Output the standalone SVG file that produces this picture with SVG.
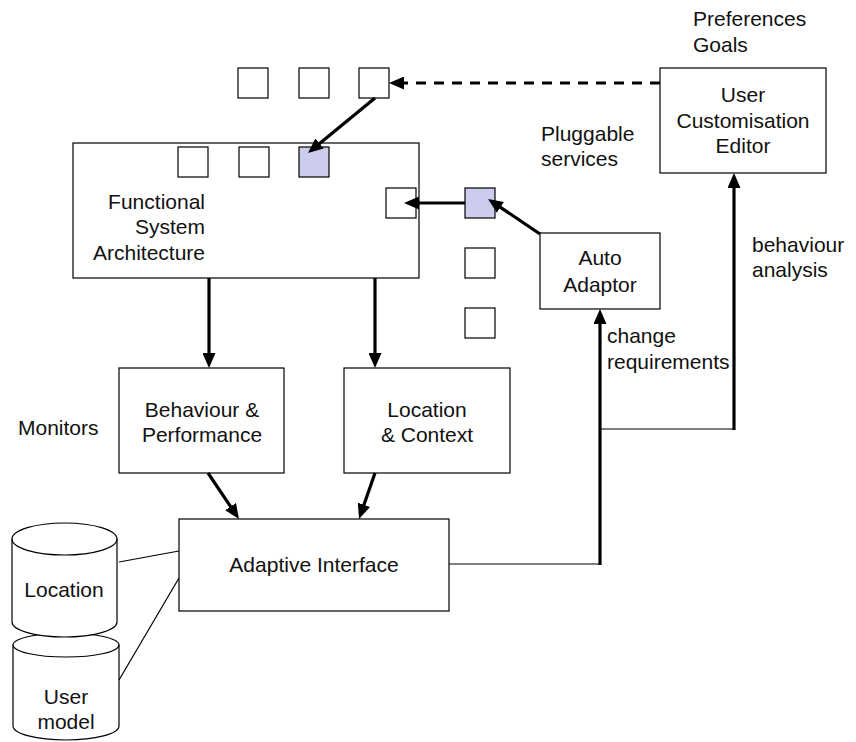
<svg xmlns="http://www.w3.org/2000/svg" width="856" height="742" viewBox="0 0 856 742">
<style>
.box{fill:#fff;stroke:#000;stroke-width:1.2}
.sq{fill:#fff;stroke:#000;stroke-width:1.2}
.sel{fill:#ccccee;stroke:#000;stroke-width:1.2}
.t{font-family:"Liberation Sans",Arial,sans-serif;font-size:21px;fill:#111}
.m{text-anchor:middle}
.e{text-anchor:end}
.thick{fill:none;stroke:#000;stroke-width:3.2}
.thin{fill:none;stroke:#000;stroke-width:1.2}
.dash{fill:none;stroke:#000;stroke-width:3.2;stroke-dasharray:10 8}
</style>
<defs>
<marker id="ah" viewBox="0 0 15 13" refX="9" refY="6.5" markerWidth="15" markerHeight="13" markerUnits="userSpaceOnUse" orient="auto">
<path d="M0,0 L15,6.5 L0,13 z" fill="#000"/>
</marker>
</defs>
<rect width="856" height="742" fill="#fff"/>

<g id="labels">
<text class="t" x="693" y="26">Preferences</text>
<text class="t" x="693" y="52">Goals</text>
<text class="t" x="541" y="141">Pluggable</text>
<text class="t" x="541" y="166">services</text>
<text class="t" x="752" y="252">behaviour</text>
<text class="t" x="752" y="277">analysis</text>
<text class="t" x="607" y="343">change</text>
<text class="t" x="607" y="369">requirements</text>
<text class="t" x="18" y="435">Monitors</text>
</g>

<g id="fsa">
<rect class="box" x="73" y="143" width="346" height="135"/>
<text class="t e" x="205" y="209">Functional</text>
<text class="t e" x="205" y="234">System</text>
<text class="t e" x="205" y="260">Architecture</text>
<rect class="sq" x="178" y="147" width="30" height="30"/>
<rect class="sq" x="239" y="147" width="30" height="30"/>
<rect class="sel" x="299" y="147" width="30" height="30"/>
<rect class="sq" x="386" y="188" width="30" height="30"/>
</g>

<g id="top-services">
<rect class="sq" x="238" y="68" width="30" height="30"/>
<rect class="sq" x="299" y="68" width="30" height="30"/>
<rect class="sq" x="359" y="68" width="30" height="30"/>
</g>

<g id="pluggable-services">
<rect class="sel" x="465" y="188" width="30" height="30"/>
<rect class="sq" x="465" y="248" width="30" height="30"/>
<rect class="sq" x="465" y="308" width="30" height="30"/>
</g>

<g id="uce">
<rect class="box" x="660" y="68" width="166" height="105"/>
<text class="t m" x="743" y="102">User</text>
<text class="t m" x="743" y="128">Customisation</text>
<text class="t m" x="743" y="153">Editor</text>
</g>

<g id="auto-adaptor">
<rect class="box" x="540" y="233" width="120" height="76"/>
<text class="t m" x="600" y="265">Auto</text>
<text class="t m" x="600" y="292">Adaptor</text>
</g>

<g id="behaviour">
<rect class="box" x="119" y="368" width="165" height="105"/>
<text class="t m" x="202" y="417">Behaviour &amp;</text>
<text class="t m" x="202" y="442">Performance</text>
</g>

<g id="location-context">
<rect class="box" x="344" y="368" width="166" height="105"/>
<text class="t m" x="427" y="417">Location</text>
<text class="t m" x="427" y="442">&amp; Context</text>
</g>

<g id="adaptive-interface">
<rect class="box" x="179" y="519" width="270" height="92"/>
<text class="t m" x="314" y="572">Adaptive Interface</text>
</g>

<g id="user-model">
<path class="box" d="M13,645 L13,726 A53,14 0 0 0 119,726 L119,645 A53,12 0 0 0 13,645 Z"/>
<path class="thin" d="M13,645 A53,12 0 0 0 119,645"/>
<text class="t m" x="66" y="704">User</text>
<text class="t m" x="66" y="729">model</text>
</g>

<g id="location-db">
<path class="box" d="M12,539 L12,622 A52.5,15 0 0 0 117,622 L117,539 A52.5,16 0 0 0 12,539 Z"/>
<path class="thin" d="M12,539 A52.5,16 0 0 0 117,539"/>
<text class="t m" x="64" y="597">Location</text>
</g>

<g id="connectors">
<line class="thick" x1="375" y1="98" x2="312.6" y2="149.2" marker-end="url(#ah)"/>
<line class="dash" x1="660" y1="83" x2="395" y2="83" marker-end="url(#ah)"/>
<line class="thick" x1="465" y1="203" x2="410" y2="203" marker-end="url(#ah)"/>
<line class="thick" x1="540" y1="234" x2="493" y2="202.3" marker-end="url(#ah)"/>
<line class="thick" x1="209" y1="278" x2="209" y2="362" marker-end="url(#ah)"/>
<line class="thick" x1="375" y1="278" x2="375" y2="362" marker-end="url(#ah)"/>
<line class="thick" x1="208" y1="473" x2="235.6" y2="514" marker-end="url(#ah)"/>
<line class="thick" x1="375" y1="473" x2="361" y2="513.3" marker-end="url(#ah)"/>
<line class="thick" x1="600" y1="565" x2="600" y2="315" marker-end="url(#ah)"/>
<line class="thick" x1="734" y1="430" x2="734" y2="179" marker-end="url(#ah)"/>
<line class="thin" x1="449" y1="564" x2="600" y2="564"/>
<line class="thin" x1="600" y1="429" x2="734" y2="429"/>
<line class="thin" x1="119" y1="562" x2="179" y2="551"/>
<line class="thin" x1="119" y1="680" x2="179" y2="578"/>
</g>
</svg>
